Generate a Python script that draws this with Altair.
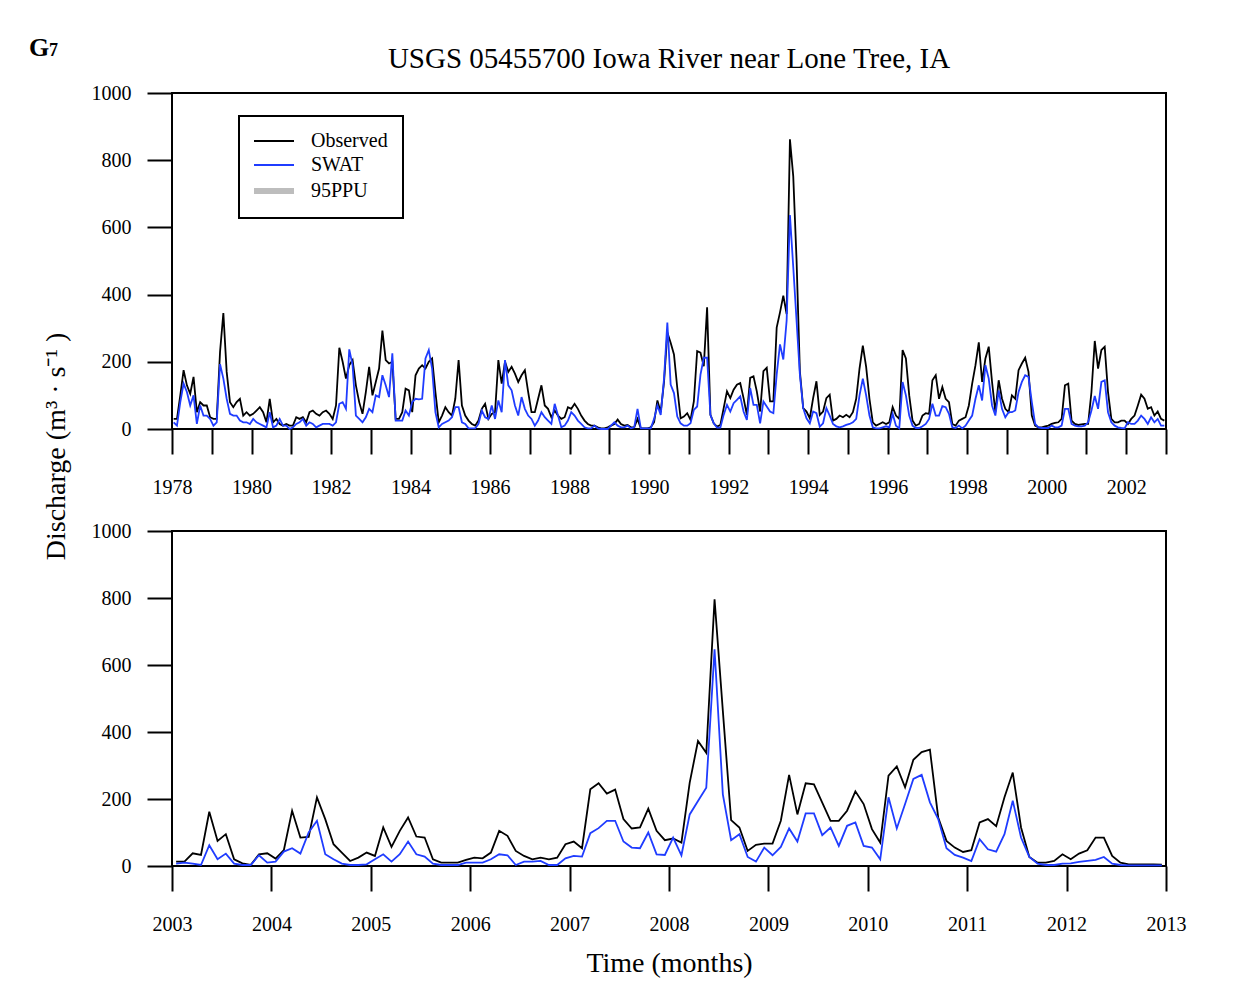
import altair as alt
import pandas as pd

FONT = "Liberation Serif"
TOP_START, TOP_END = 1978, 2003
BOT_START, BOT_END = 2003, 2013

# Monthly discharge (m3/s), 1978-01 .. 2002-12
obs_top = [
    30, 30, 100, 175, 130, 105, 155, 50, 80, 70, 70, 35,        # 1978
    30, 30, 230, 345, 170, 80, 65, 80, 90, 40, 50, 40,          # 1979
    45, 55, 65, 50, 20, 90, 20, 30, 15, 10, 15, 10,             # 1980
    10, 35, 30, 35, 20, 50, 55, 45, 40, 50, 55, 45,             # 1981
    30, 70, 242, 200, 150, 190, 205, 130, 80, 45, 110, 185,     # 1982
    100, 140, 180, 293, 205, 195, 200, 30, 30, 50, 120, 115,    # 1983
    50, 160, 180, 190, 180, 200, 210, 110, 20, 40, 65, 50,      # 1984
    40, 90, 205, 70, 40, 25, 15, 10, 25, 60, 75, 30,            # 1985
    45, 50, 205, 135, 200, 170, 185, 165, 140, 160, 175, 110,   # 1986
    50, 50, 90, 130, 70, 60, 35, 55, 40, 30, 35, 65,            # 1987
    60, 75, 60, 40, 25, 15, 10, 10, 5, 2, 2, 5,                 # 1988
    10, 15, 28, 15, 10, 12, 5, 5, 30, 2, 2, 2,                  # 1989
    5, 20, 85, 50, 140, 287, 257, 222, 122, 32, 37, 47,         # 1990
    27, 82, 232, 227, 187, 362, 42, 17, 7, 12, 62, 112,         # 1991
    92, 117, 132, 137, 92, 42, 152, 157, 112, 52, 172, 182,     # 1992
    82, 82, 302, 347, 397, 342, 862, 752, 502, 172, 62, 52,     # 1993
    32, 92, 142, 42, 52, 92, 102, 25, 30, 40, 35, 42,           # 1994
    35, 50, 90, 180, 248, 185, 90, 20, 10, 15, 20, 15,          # 1995
    20, 65, 40, 30, 235, 210, 100, 25, 10, 15, 40, 47,          # 1996
    45, 145, 160, 90, 125, 90, 80, 15, 10, 25, 30, 35,          # 1997
    70, 135, 190, 258, 140, 210, 245, 140, 50, 145, 90, 60,     # 1998
    50, 100, 90, 175, 195, 212, 170, 40, 10, 5, 5, 8,           # 1999
    10, 15, 18, 20, 30, 130, 135, 25, 15, 12, 14, 15,           # 2000
    15, 110, 262, 180, 235, 245, 110, 30, 20, 20, 25, 25,       # 2001
    15, 30, 40, 70, 102, 90, 60, 65, 40, 52, 30, 25,            # 2002
]
swat_top = [
    20, 10, 80, 135, 110, 70, 100, 15, 70, 40, 40, 30,          # 1978
    10, 20, 193, 150, 90, 45, 40, 40, 25, 20, 20, 15,           # 1979
    30, 20, 15, 10, 5, 50, 5, 10, 30, 10, 10, 0,                # 1980
    5, 15, 20, 30, 10, 20, 15, 5, 10, 15, 15, 15,               # 1981
    10, 20, 75, 80, 60, 237, 190, 40, 30, 20, 35, 60,           # 1982
    50, 100, 95, 160, 130, 95, 225, 25, 25, 25, 55, 40,         # 1983
    80, 90, 88, 90, 210, 235, 180, 50, 5, 15, 20, 25,           # 1984
    35, 65, 65, 20, 15, 2, 2, 2, 15, 55, 35, 30,                # 1985
    70, 30, 85, 50, 205, 130, 115, 70, 40, 95, 60, 40,          # 1986
    30, 10, 25, 50, 35, 25, 15, 75, 40, 5, 10, 25,              # 1987
    50, 40, 25, 15, 5, 2, 2, 10, 2, 0, 0, 0,                    # 1988
    10, 20, 10, 5, 5, 10, 2, 5, 60, 2, 2, 2,                    # 1989
    2, 30, 70, 42, 150, 317, 132, 107, 37, 17, 10, 10,          # 1990
    17, 57, 67, 162, 212, 212, 42, 17, 4, 4, 42, 72,            # 1991
    52, 77, 87, 97, 52, 27, 122, 72, 72, 17, 82, 67,            # 1992
    52, 47, 162, 252, 207, 322, 637, 482, 322, 162, 62, 32,     # 1993
    17, 52, 47, 7, 17, 62, 40, 15, 8, 5, 8, 12,                 # 1994
    15, 20, 30, 100, 150, 100, 40, 5, 2, 2, 5, 8,               # 1995
    5, 45, 10, 2, 140, 100, 40, 10, 3, 3, 8, 15,                # 1996
    30, 75, 40, 40, 68, 65, 45, 5, 3, 10, 2, 10,                # 1997
    25, 40, 90, 130, 85, 190, 150, 70, 40, 115, 60, 35,         # 1998
    50, 50, 55, 110, 140, 160, 155, 80, 15, 5, 3, 3,            # 1999
    3, 10, 5, 5, 10, 60, 60, 15, 10, 8, 8, 10,                  # 2000
    20, 55, 98, 60, 140, 145, 50, 20, 10, 5, 3, 2,              # 2001
    20, 15, 15, 25, 40, 30, 15, 35, 20, 30, 10, 10,             # 2002
]

# Monthly discharge (m3/s), 2003-01 .. 2012-12
obs_bottom = [
    13, 13, 38, 33, 162, 75, 95, 20, 8, 3, 35, 38,              # 2003
    22, 47, 165, 85, 87, 205, 140, 65, 40, 15, 25, 40,          # 2004
    30, 115, 57, 105, 145, 88, 85, 20, 10, 10, 10, 18,          # 2005
    25, 23, 40, 105, 90, 45, 30, 20, 25, 20, 25, 65,            # 2006
    73, 53, 229, 247, 216, 228, 140, 112, 115, 171, 105, 77,    # 2007
    82, 70, 249, 373, 338, 796, 463, 137, 115, 45, 63, 67,      # 2008
    67, 135, 272, 154, 247, 244, 189, 135, 135, 165, 223, 185,  # 2009
    110, 70, 270, 297, 235, 317, 340, 347, 145, 75, 55, 42,     # 2010
    47, 130, 140, 119, 205, 279, 115, 27, 10, 10, 15, 35,       # 2011
    20, 37, 47, 85, 85, 30, 10, 5, 5, 5, 5, 4,                  # 2012
]
swat_bottom = [
    7, 10, 7, 3, 62, 20, 37, 7, 3, 3, 32, 10,                   # 2003
    13, 43, 53, 37, 100, 135, 35, 20, 7, 3, 3, 5,               # 2004
    20, 35, 13, 35, 73, 35, 28, 7, 3, 3, 3, 10,                 # 2005
    10, 10, 20, 35, 32, 3, 13, 13, 15, 3, 3, 23,                # 2006
    30, 28, 98, 113, 135, 135, 73, 55, 53, 100, 35, 33,         # 2007
    85, 32, 154, 194, 234, 647, 214, 77, 95, 27, 13, 55,        # 2008
    32, 57, 112, 73, 157, 157, 92, 115, 60, 120, 130, 60,       # 2009
    55, 20, 205, 112, 185, 260, 272, 190, 140, 53, 33, 25,      # 2010
    15, 80, 50, 43, 95, 195, 85, 27, 7, 3, 3, 7,                # 2011
    8, 12, 15, 18, 27, 7, 3, 2, 2, 2, 2, 2,                     # 2012
]

SERIES = ["Observed", "SWAT", "95PPU"]
COLORS = ["#000000", "#1f3cff", "#bdbdbd"]
Y_TICKS = [0, 200, 400, 600, 800, 1000]

TITLE = "USGS 05455700 Iowa River near Lone Tree, IA"
Y_TITLE = "Discharge (m³ · s⁻¹ )"
X_TITLE = "Time (months)"

W, H = 994, 336


def long_frame(start, obs, swat):
    rows = []
    for i, (o, s) in enumerate(zip(obs, swat)):
        t = start + (i + 0.5) / 12.0
        rows.append({"t": t, "q": o, "series": "Observed"})
        rows.append({"t": t, "q": s, "series": "SWAT"})
    return pd.DataFrame(rows)


def lines(df, x, y, legend):
    color = alt.Color("series:N", scale=alt.Scale(domain=SERIES, range=COLORS), legend=legend)
    base = alt.Chart(df).mark_line(strokeWidth=1.8)
    obs = base.transform_filter(alt.datum.series == "Observed").encode(x=x, y=y, color=color)
    sw_ = base.transform_filter(alt.datum.series == "SWAT").encode(x=x, y=y, color=color)
    return [obs, sw_]


legend = alt.Legend(
    orient="none", legendX=67, legendY=23, title=None,
    symbolType="M-1,0H3", symbolSize=400, labelOffset=37,
    symbolStrokeWidth=alt.ExprRef("datum.value === '95PPU' ? 6 : 1.8"),
    labelFont=FONT, labelFontSize=20, labelColor="black",
    strokeColor="black", padding=15, rowPadding=4, fillColor="white",
)

# ---- top panel
df_top = long_frame(TOP_START, obs_top, swat_top)
x_top = alt.X(
    "t:Q",
    scale=alt.Scale(domain=[TOP_START, TOP_END], nice=False, zero=False),
    axis=alt.Axis(values=list(range(TOP_START, TOP_END + 1)), format="d",
                  labelExpr="datum.value % 2 == 0 ? datum.label : ''",
                  title=None, labelFlush=False, labelOverlap=False, labelPadding=23),
)
y_top = alt.Y(
    "q:Q",
    scale=alt.Scale(domain=[0, 1000], nice=False),
    axis=alt.Axis(values=Y_TICKS, format="d", title=Y_TITLE, titleX=-116, titleY=353,
                  titleAlign="center", titleBaseline="middle", titleAngle=270,
                  labelFlush=False, labelPadding=16),
)
top = alt.layer(*lines(df_top, x_top, y_top, legend)).properties(
    width=W, height=H,
    title=alt.TitleParams(TITLE, font=FONT, fontSize=29, fontWeight="normal",
                          anchor="middle", frame="group", offset=-14,
                          baseline="alphabetic", color="black"),
)

# ---- bottom panel
df_bot = long_frame(BOT_START, obs_bottom, swat_bottom)
x_bot = alt.X(
    "t:Q",
    scale=alt.Scale(domain=[BOT_START, BOT_END], nice=False, zero=False),
    axis=alt.Axis(values=list(range(BOT_START, BOT_END + 1)), format="d",
                  title=X_TITLE, titleY=97, titleBaseline="middle",
                  labelFlush=False, labelOverlap=False, labelPadding=23),
)
y_bot = alt.Y(
    "q:Q",
    scale=alt.Scale(domain=[0, 1000], nice=False),
    axis=alt.Axis(values=Y_TICKS, format="d", title=None, labelFlush=False, labelPadding=16),
)
g_label = alt.Chart(pd.DataFrame({"label": ["G"]})).mark_text(
    align="left", baseline="alphabetic", font=FONT, fontSize=26, fontWeight="bold", color="black"
).encode(text="label:N", x=alt.value(-143), y=alt.value(-475))
g_sub = alt.Chart(pd.DataFrame({"label": ["7"]})).mark_text(
    align="left", baseline="alphabetic", font=FONT, fontSize=18, fontWeight="bold", color="black"
).encode(text="label:N", x=alt.value(-123), y=alt.value(-475))

bottom = alt.layer(*lines(df_bot, x_bot, y_bot, None), g_label, g_sub).properties(width=W, height=335)

chart = (
    alt.vconcat(top, bottom, spacing=102, bounds="flush")
    .resolve_scale(color="independent")
    .properties(padding={"left": 28, "top": 34, "right": 10, "bottom": 10})
    .configure_view(stroke="black", strokeWidth=2)
    .configure_axis(
        domain=False, grid=False, tickColor="black", tickWidth=2, tickSize=25,
        labelFont=FONT, labelFontSize=20, labelColor="black",
        titleFont=FONT, titleFontSize=28, titleFontWeight="normal", titleColor="black",
    )
    .configure_legend(strokeWidth=2)
)

chart.save("out.html", embed_options={"renderer": "svg", "actions": False})
